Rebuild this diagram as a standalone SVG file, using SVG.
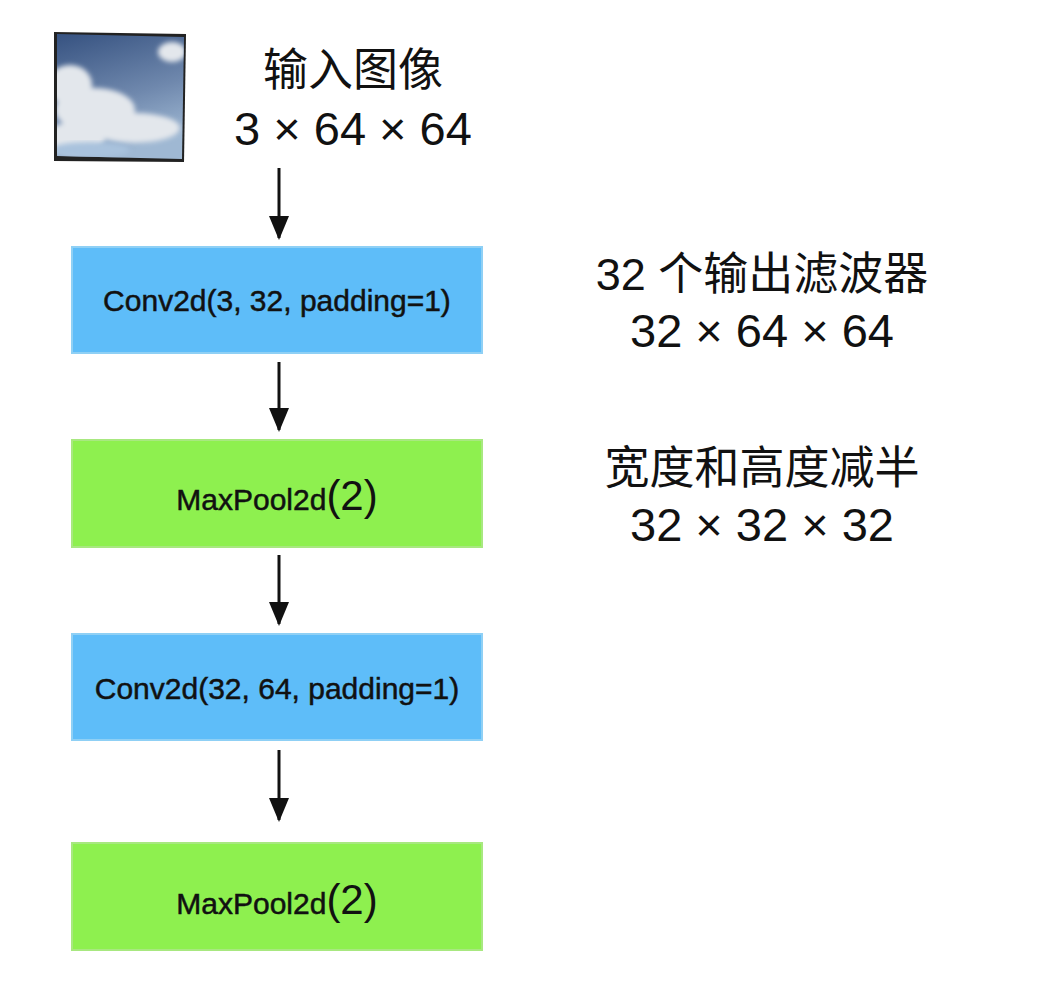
<svg xmlns="http://www.w3.org/2000/svg" width="1054" height="1008" viewBox="0 0 1054 1008">
<style>
.big{font-family:"Liberation Sans","Noto Sans CJK SC",sans-serif;font-size:47px;fill:#111;text-anchor:middle}
.cjk{font-size:45px}
.lbl{font-family:"Liberation Sans",sans-serif;font-size:30px;fill:#111;stroke:#111;stroke-width:0.5;text-anchor:middle}
.blue{fill:#5ebdf9;stroke:#8fd0f5;stroke-width:2}
.green{fill:#8ef04f;stroke:#a8e880;stroke-width:2}
.arr{stroke:#111;stroke-width:3;fill:none;marker-end:url(#ah)}
</style>
<defs>
<marker id="ah" markerWidth="20" markerHeight="24" refX="10" refY="22" orient="0" markerUnits="userSpaceOnUse"><path d="M0,0 L20,0 L10,24 z" fill="#111"/></marker>
<linearGradient id="sky" x1="0" y1="0" x2="0.3" y2="1"><stop offset="0" stop-color="#34507f"/><stop offset="0.6" stop-color="#6f88ad"/><stop offset="1" stop-color="#9fb8d3"/></linearGradient>
<filter id="blur"><feGaussianBlur stdDeviation="2.5"/></filter>
<clipPath id="imgclip"><polygon points="57,34 184,37 182,159 57,156"/></clipPath>
</defs>
<rect width="1054" height="1008" fill="#fff"/>
<g id="input-image">
<polygon points="54,32 186,34 184,162 54,161" fill="#222"/>
<g clip-path="url(#imgclip)">
<rect x="54" y="32" width="132" height="130" fill="url(#sky)"/>
<g filter="url(#blur)" fill="#e3e7ec">
<ellipse cx="70" cy="85" rx="22" ry="20"/>
<ellipse cx="95" cy="110" rx="40" ry="22"/>
<ellipse cx="135" cy="128" rx="45" ry="15"/>
<ellipse cx="75" cy="138" rx="30" ry="16"/>
<ellipse cx="172" cy="52" rx="14" ry="10"/>
</g>
<ellipse cx="90" cy="150" rx="40" ry="8" fill="#a9c2dd" filter="url(#blur)"/>
</g>
<text class="big cjk" x="353" y="86">输入图像</text>
<text class="big" x="353" y="145">3 × 64 × 64</text>
</g>
<g id="conv1"><rect class="blue" x="72" y="247" width="410" height="106"/><text class="lbl" x="277" y="311">Conv2d(3, 32, padding=1)</text></g>
<g id="pool1"><rect class="green" x="72" y="440" width="410" height="107"/><text class="lbl" x="277" y="510">MaxPool2d<tspan font-size="42" stroke-width="0">(2)</tspan></text></g>
<g id="conv2"><rect class="blue" x="72" y="634" width="410" height="106"/><text class="lbl" x="277" y="699">Conv2d(32, 64, padding=1)</text></g>
<g id="pool2"><rect class="green" x="72" y="843" width="410" height="107"/><text class="lbl" x="277" y="914">MaxPool2d<tspan font-size="42" stroke-width="0">(2)</tspan></text></g>
<g id="note1"><text class="big cjk" x="762" y="290">32 个输出滤波器</text><text class="big" x="762" y="347">32 × 64 × 64</text></g>
<g id="note2"><text class="big cjk" x="762" y="484">宽度和高度减半</text><text class="big" x="762" y="541">32 × 32 × 32</text></g>
<g id="connectors">
<line class="arr" x1="279" y1="168" x2="279" y2="238"/>
<line class="arr" x1="279" y1="362" x2="279" y2="430"/>
<line class="arr" x1="279" y1="555" x2="279" y2="624"/>
<line class="arr" x1="279" y1="750" x2="279" y2="820"/>
</g>
</svg>
